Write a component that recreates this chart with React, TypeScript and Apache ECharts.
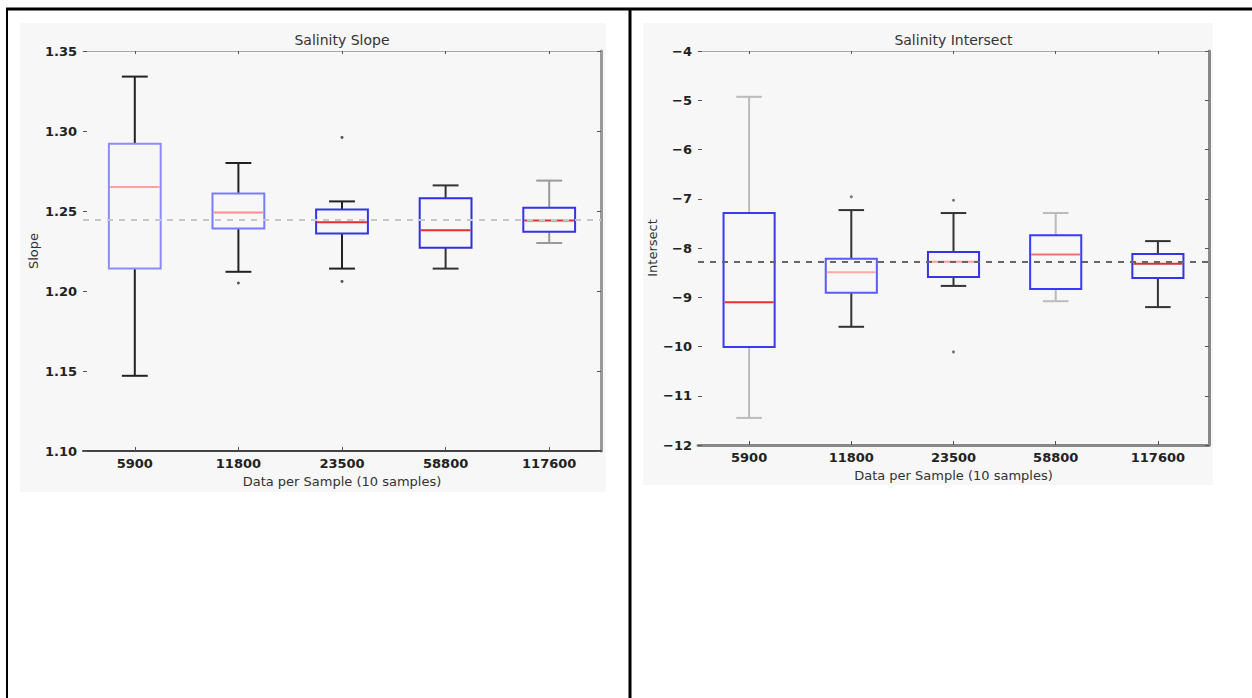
import React, { useEffect, useRef } from "react";
import * as echarts from "echarts";

const categories = ["5900", "11800", "23500", "58800", "117600"];

// [lower whisker, Q1, median, Q3, upper whisker]
const slopeBoxes = [
  [1.147, 1.214, 1.265, 1.292, 1.334],
  [1.212, 1.239, 1.249, 1.261, 1.28],
  [1.214, 1.236, 1.243, 1.251, 1.256],
  [1.214, 1.227, 1.238, 1.258, 1.266],
  [1.23, 1.237, 1.244, 1.252, 1.269],
];
const slopeOutliers = [
  [1, 1.205],
  [2, 1.296],
  [2, 1.206],
];
const slopeReference = 1.2444;
const slopeAxis = { min: 1.1, max: 1.35, step: 0.05 };

const interceptBoxes = [
  [-11.45, -10.01, -9.1, -7.29, -4.93],
  [-9.6, -8.91, -8.49, -8.22, -7.23],
  [-8.77, -8.59, -8.28, -8.08, -7.29],
  [-9.08, -8.83, -8.13, -7.74, -7.29],
  [-9.2, -8.61, -8.32, -8.12, -7.86],
];
const interceptOutliers = [
  [1, -6.96],
  [2, -7.03],
  [2, -10.11],
];
const interceptReference = -8.28;
const interceptAxis = { min: -12, max: -4, step: 1 };

// styles (per box)
const slopeBoxColor = ["#8c8cff", "#7a7aff", "#3535e8", "#3030e0", "#3535e8"];
const slopeMedianColor = ["#ffa0a0", "#ff8c8c", "#e03030", "#e03030", "#e03030"];
const slopeWhiskerColor = ["#222", "#222", "#222", "#333", "#999"];
const interceptBoxColor = ["#3a3aee", "#5a5aff", "#3535e8", "#3a3aee", "#3535e8"];
const interceptMedianColor = ["#e83030", "#ffa8a8", "#ff9a9a", "#f07070", "#e03030"];
const interceptWhiskerColor = ["#bbb", "#333", "#333", "#bbb", "#333"];

const FONT = "DejaVu Sans";

function boxRenderer(boxColor: string[], medColor: string[], whiskColor: string[]) {
  return (params: any, api: any) => {
    const i = api.value(0);
    const lo = api.coord([i, api.value(1)]);
    const q1 = api.coord([i, api.value(2)]);
    const md = api.coord([i, api.value(3)]);
    const q3 = api.coord([i, api.value(4)]);
    const hi = api.coord([i, api.value(5)]);
    const band = api.size([1, 0])[0];
    const bw = band * 0.5;
    const cw = bw * 0.5;
    const x = lo[0];
    const k = params.dataIndex;
    const ws = { stroke: whiskColor[k], lineWidth: 2 };
    return {
      type: "group",
      children: [
        { type: "line", shape: { x1: x, y1: q3[1], x2: x, y2: hi[1] }, style: ws },
        { type: "line", shape: { x1: x - cw / 2, y1: hi[1], x2: x + cw / 2, y2: hi[1] }, style: ws },
        { type: "line", shape: { x1: x, y1: q1[1], x2: x, y2: lo[1] }, style: ws },
        { type: "line", shape: { x1: x - cw / 2, y1: lo[1], x2: x + cw / 2, y2: lo[1] }, style: ws },
        {
          type: "rect",
          shape: { x: x - bw / 2, y: q3[1], width: bw, height: q1[1] - q3[1] },
          style: { fill: "none", stroke: boxColor[k], lineWidth: 2 },
        },
        {
          type: "line",
          shape: { x1: x - bw / 2 + 1, y1: md[1], x2: x + bw / 2 - 1, y2: md[1] },
          style: { stroke: medColor[k], lineWidth: 2 },
        },
      ],
    };
  };
}

export default function App() {
  const ref = useRef<HTMLDivElement>(null);
  useEffect(() => {
    const chart = echarts.init(ref.current!, undefined, { renderer: "svg" });

    const G1 = { left: 83, top: 51, width: 518, height: 400 };
    const G2 = { left: 698, top: 51, width: 511, height: 394 };

    const labelStyle = { color: "#222", fontFamily: FONT, fontSize: 13, fontWeight: "bold" as const };

    const catAxis = (gridIndex: number, bottomColor: string, bottomWidth: number, nameGap: number) => [
      {
        type: "category",
        gridIndex,
        data: categories,
        position: "bottom",
        axisLine: { show: true, lineStyle: { color: bottomColor, width: bottomWidth } },
        axisTick: { show: true, inside: true, alignWithLabel: true, length: 4, lineStyle: { color: "#555" } },
        axisLabel: { ...labelStyle, margin: 6 },
        splitLine: { show: false },
        name: "Data per Sample (10 samples)",
        nameLocation: "middle",
        nameGap,
        nameTextStyle: { color: "#333", fontFamily: FONT, fontSize: 13 },
      },
      {
        type: "category",
        gridIndex,
        data: categories,
        position: "top",
        axisLine: { show: true, lineStyle: { color: "#aaa", width: 1 } },
        axisTick: { show: true, inside: true, alignWithLabel: true, length: 3, lineStyle: { color: "#555" } },
        axisLabel: { show: false },
        splitLine: { show: false },
      },
    ];

    const valAxis = (
      gridIndex: number,
      ax: { min: number; max: number; step: number },
      name: string,
      nameGap: number,
      fmt: (v: number) => string,
      rightColor: string
    ) => [
      {
        type: "value",
        gridIndex,
        position: "left",
        min: ax.min,
        max: ax.max,
        interval: ax.step,
        axisLine: { show: false },
        axisTick: { show: true, inside: true, length: 4, lineStyle: { color: "#555" } },
        axisLabel: { ...labelStyle, margin: 6, formatter: fmt },
        splitLine: { show: false },
        name,
        nameLocation: "middle",
        nameGap,
        nameTextStyle: { color: "#333", fontFamily: FONT, fontSize: 13 },
      },
      {
        type: "value",
        gridIndex,
        position: "right",
        min: ax.min,
        max: ax.max,
        interval: ax.step,
        axisLine: { show: true, lineStyle: { color: rightColor, width: 3 } },
        axisTick: { show: true, inside: true, length: 4, lineStyle: { color: "#555" } },
        axisLabel: { show: false },
        splitLine: { show: false },
      },
    ];

    const xAxes = [...catAxis(0, "#444", 2, 22), ...catAxis(1, "#888", 3, 20)];
    const yAxes = [
      ...valAxis(0, slopeAxis, "Slope", 43, (v) => v.toFixed(2), "#999"),
      ...valAxis(1, interceptAxis, "Intersect", 36, (v) => (v < 0 ? "\u2212" + Math.abs(v) : String(v)), "#888"),
    ];

    chart.setOption({
      animation: false,
      backgroundColor: "#ffffff",
      grid: [
        { ...G1, containLabel: false },
        { ...G2, containLabel: false },
      ],
      xAxis: xAxes,
      yAxis: yAxes,
      graphic: [
        { type: "rect", z: -10, shape: { x: 20, y: 23, width: 586, height: 469 }, style: { fill: "#f7f7f7" } },
        { type: "rect", z: -10, shape: { x: 643, y: 23, width: 570, height: 462 }, style: { fill: "#f7f7f7" } },
        { type: "line", shape: { x1: 6, y1: 9, x2: 1252, y2: 9 }, style: { stroke: "#000", lineWidth: 3 } },
        { type: "line", shape: { x1: 7, y1: 8, x2: 7, y2: 698 }, style: { stroke: "#000", lineWidth: 2 } },
        { type: "line", shape: { x1: 630, y1: 8, x2: 630, y2: 698 }, style: { stroke: "#000", lineWidth: 3 } },
        {
          type: "text",
          x: G1.left + G1.width / 2,
          y: 40,
          style: { text: "Salinity Slope", fontFamily: FONT, fontSize: 14, fill: "#333", align: "center", verticalAlign: "middle" },
        },
        {
          type: "text",
          x: G2.left + G2.width / 2,
          y: 40,
          style: { text: "Salinity Intersect", fontFamily: FONT, fontSize: 14, fill: "#333", align: "center", verticalAlign: "middle" },
        },
      ],
      series: [
        {
          type: "custom",
          xAxisIndex: 0,
          yAxisIndex: 0,
          renderItem: boxRenderer(slopeBoxColor, slopeMedianColor, slopeWhiskerColor),
          encode: { x: 0, y: [1, 2, 3, 4, 5] },
          data: slopeBoxes.map((b, i) => [i, ...b]),
          markLine: {
            silent: true,
            symbol: "none",
            precision: 4,
            label: { show: false },
            lineStyle: { color: "#c8c8c8", type: [6, 6], width: 2 },
            data: [{ yAxis: slopeReference }],
          },
          z: 3,
        },
        {
          type: "scatter",
          xAxisIndex: 0,
          yAxisIndex: 0,
          symbolSize: 3,
          itemStyle: { color: "#333" },
          data: slopeOutliers,
        },
        {
          type: "custom",
          xAxisIndex: 2,
          yAxisIndex: 2,
          renderItem: boxRenderer(interceptBoxColor, interceptMedianColor, interceptWhiskerColor),
          encode: { x: 0, y: [1, 2, 3, 4, 5] },
          data: interceptBoxes.map((b, i) => [i, ...b]),
          markLine: {
            silent: true,
            symbol: "none",
            precision: 4,
            label: { show: false },
            lineStyle: { color: "#666", type: [6, 6], width: 2 },
            data: [{ yAxis: interceptReference }],
          },
          z: 3,
        },
        {
          type: "scatter",
          xAxisIndex: 2,
          yAxisIndex: 2,
          symbolSize: 3,
          itemStyle: { color: "#555" },
          data: interceptOutliers,
        },
      ],
    });
    return () => chart.dispose();
  }, []);

  return (
    <div
      ref={ref}
      style={{ position: "absolute", left: 0, top: 0, width: 1252, height: 698 }}
    />
  );
}
